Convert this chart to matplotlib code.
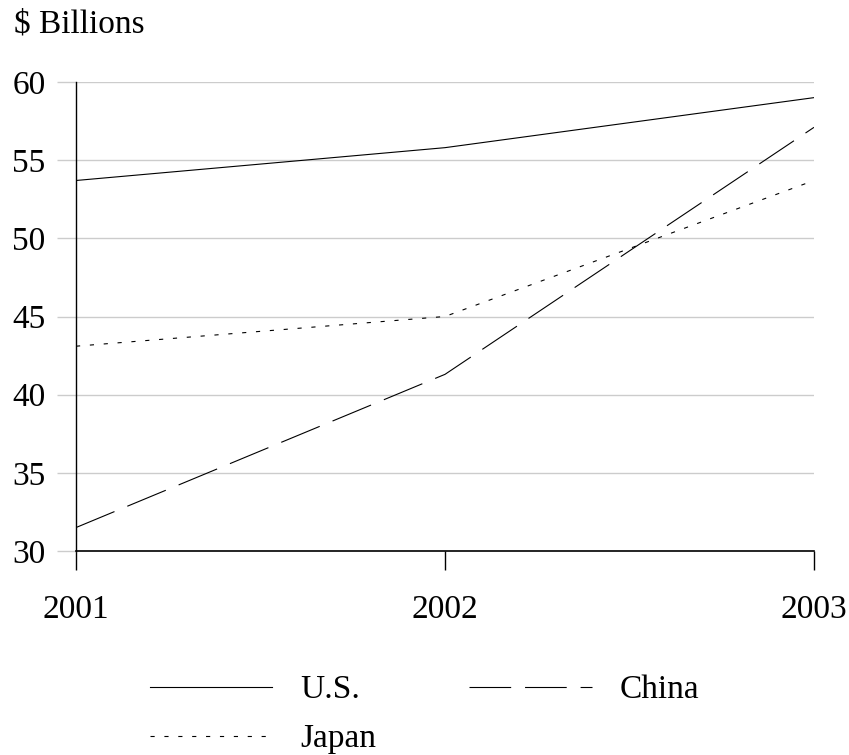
import matplotlib.pyplot as plt
import numpy as np

plt.rcParams['font.family'] = ['Liberation Serif', 'DejaVu Serif']
plt.rcParams['lines.scale_dashes'] = False

years = [2001, 2002, 2003]
us = [53.7, 55.8, 59.0]
china = [31.5, 41.3, 57.1]
japan = [43.1, 45.0, 53.7]
yticks = [30, 35, 40, 45, 50, 55, 60]

fig = plt.figure(figsize=(8.49, 7.55), dpi=100)
ax = fig.add_axes([76/849, 1 - 551/755, (814 - 76)/849, (551 - 82)/755])

lw = 0.8
ax.plot(years, us, color='black', lw=lw, label='U.S.')
ax.plot(years, japan, color='black', lw=lw, linestyle=(0, (3, 7)), label='Japan')
ax.plot(years, china, color='black', lw=lw, linestyle=(0, (30, 10)), label='China')

ax.set_xlim(2001, 2003)
ax.set_ylim(30, 60)
ax.set_xticks(years)
ax.set_yticks(yticks)
ax.grid(axis='y', color='#cccccc', lw=1)
ax.set_axisbelow(True)

for s in ['top', 'right']:
    ax.spines[s].set_visible(False)
ax.spines['left'].set_linewidth(1)
ax.spines['bottom'].set_linewidth(1.2)

ax.tick_params(axis='y', length=14, width=1, color='#cccccc', labelsize=24, pad=8)
ax.tick_params(axis='x', length=14, width=1, color='black', labelsize=24, pad=17)

fig.text(14/849, 1 - 24/755, '$ Billions', fontsize=24, va='center', ha='left')

handles, labels = ax.get_legend_handles_labels()
leg = fig.legend(handles, labels, ncol=2, loc='upper left',
                 bbox_to_anchor=(150/849, 1 - 675/755), frameon=False,
                 fontsize=24, handlelength=3.67, handletextpad=0.83,
                 columnspacing=2.8, labelspacing=0.55, borderpad=0,
                 borderaxespad=0)

fig.savefig('out.png', dpi=100)
